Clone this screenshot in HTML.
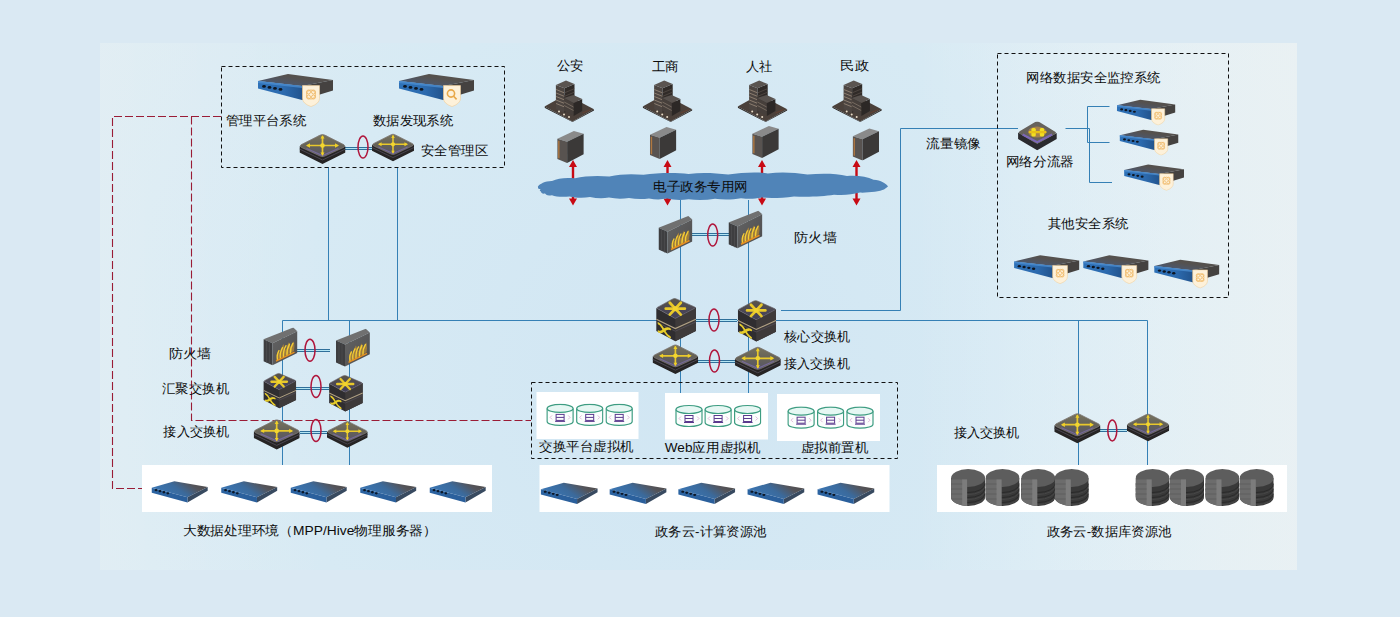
<!DOCTYPE html>
<html><head><meta charset="utf-8"><style>
html,body{margin:0;padding:0;background:#dae9f3;overflow:hidden;}
svg{display:block;}
text{font-family:"Liberation Sans",sans-serif;font-size:13px;font-weight:500;fill:#0c0c0c;}
</style></head><body>
<svg width="1400" height="617" viewBox="0 0 1400 617">

<defs>
 <linearGradient id="gBlue" x1="0" y1="0" x2="1" y2="0">
  <stop offset="0" stop-color="#2f72b8"/><stop offset="0.6" stop-color="#2c6aae"/><stop offset="1" stop-color="#22548e"/>
 </linearGradient>
 <linearGradient id="gTop" x1="0" y1="1" x2="1" y2="0">
  <stop offset="0" stop-color="#3a6698"/><stop offset="0.3" stop-color="#4e5666"/><stop offset="0.6" stop-color="#55514e"/><stop offset="1" stop-color="#524e4a"/>
 </linearGradient>
 <linearGradient id="gSwTop" x1="0" y1="0" x2="0" y2="1">
  <stop offset="0" stop-color="#77735f"/><stop offset="0.5" stop-color="#656258"/><stop offset="1" stop-color="#56546a"/>
 </linearGradient>
 <linearGradient id="gCoreTop" x1="0" y1="0" x2="0" y2="1">
  <stop offset="0" stop-color="#5a5648"/><stop offset="0.6" stop-color="#4a4656"/><stop offset="1" stop-color="#42405a"/>
 </linearGradient>
 <linearGradient id="gSrvTop" x1="0" y1="0.6" x2="1" y2="0.2">
  <stop offset="0" stop-color="#3a78b8"/><stop offset="0.45" stop-color="#3b6a9c"/><stop offset="0.75" stop-color="#54545a"/><stop offset="1" stop-color="#4e4a48"/>
 </linearGradient>
 <linearGradient id="gSrvFront" x1="0" y1="0" x2="1" y2="0">
  <stop offset="0" stop-color="#2c64a2"/><stop offset="1" stop-color="#2a5e9a"/>
 </linearGradient>
 <linearGradient id="gFw" x1="0" y1="0" x2="1" y2="1">
  <stop offset="0" stop-color="#646464"/><stop offset="1" stop-color="#4c4c4e"/>
 </linearGradient>

 <symbol id="srv" viewBox="0 0 76 34">
  <polygon points="1,8 31,1 76,7 45,13" fill="url(#gTop)"/>
  <polygon points="45,13 76,7 76,17.5 45,27" fill="#454240"/>
  <polygon points="1,8 45,13 45,27 1,15.5" fill="url(#gBlue)"/>
  <polygon points="1,8 45,13 45,15 1,10" fill="#4a8cd0" opacity="0.8"/>
  <g fill="#0e1622"><ellipse cx="7" cy="13.4" rx="1.9" ry="1.4"/><ellipse cx="12.5" cy="14.4" rx="1.9" ry="1.4"/><ellipse cx="18" cy="15.4" rx="1.9" ry="1.4"/><ellipse cx="23.5" cy="16.4" rx="1.9" ry="1.4"/></g>
  <path d="M45.5,12.6 L62.5,12.6 L62.5,25.5 Q62.5,30.5 54,33.6 Q45.5,30.5 45.5,25.5 Z" fill="#fdf1da" stroke="#f2cf98" stroke-width="0.6"/>
  <g fill="none" stroke="#efb866" stroke-width="0.9"><circle cx="54" cy="21.5" r="4.5"/><circle cx="51.5" cy="19" r="2"/><circle cx="56.5" cy="19" r="2"/><circle cx="51.5" cy="24" r="2"/><circle cx="56.5" cy="24" r="2"/></g>
 </symbol>
 <symbol id="srvq" viewBox="0 0 76 34">
  <polygon points="1,8 31,1 76,7 45,13" fill="url(#gTop)"/>
  <polygon points="45,13 76,7 76,17.5 45,27" fill="#454240"/>
  <polygon points="1,8 45,13 45,27 1,15.5" fill="url(#gBlue)"/>
  <polygon points="1,8 45,13 45,15 1,10" fill="#4a8cd0" opacity="0.8"/>
  <g fill="#0e1622"><ellipse cx="7" cy="13.4" rx="1.9" ry="1.4"/><ellipse cx="12.5" cy="14.4" rx="1.9" ry="1.4"/><ellipse cx="18" cy="15.4" rx="1.9" ry="1.4"/><ellipse cx="23.5" cy="16.4" rx="1.9" ry="1.4"/></g>
  <path d="M45.5,12.6 L62.5,12.6 L62.5,25.5 Q62.5,30.5 54,33.6 Q45.5,30.5 45.5,25.5 Z" fill="#fdf1da" stroke="#f2cf98" stroke-width="0.6"/>
  <g fill="none" stroke="#e8a848" stroke-width="1.6"><circle cx="53" cy="20.5" r="3.6"/><path d="M55.6,23.2 L58.6,26.4"/></g>
 </symbol>

 <symbol id="srvb" viewBox="0 0 59 24">
  <polygon points="0,8 23.6,1.4 58.4,7.4 37.3,18" fill="url(#gSrvTop)"/>
  <polygon points="37.3,18 58.4,7.4 58.4,11.1 37.3,23.4" fill="#384a60"/>
  <polygon points="0,8 37.3,18 37.3,23.4 0,13.4" fill="url(#gSrvFront)"/>
  <g fill="#0c1828"><ellipse cx="4.5" cy="10.6" rx="1.5" ry="1.2"/><ellipse cx="8.6" cy="11.7" rx="1.5" ry="1.2"/><ellipse cx="12.7" cy="12.8" rx="1.5" ry="1.2"/><ellipse cx="16.8" cy="13.9" rx="1.5" ry="1.2"/></g>
 </symbol>

 <symbol id="sw" viewBox="0 0 46 31">
  <path d="M0,12.5 L23,23 L46,12.5 L46,19 L23,30.5 L0,19 Z" fill="#262424"/>
  <path d="M0,15.5 L23,26.5 L46,15.5" fill="none" stroke="#4a4650" stroke-width="1"/>
  <path d="M23,1 Q24,1 25.5,1.7 L44.5,11.3 Q46,12.5 44.5,13.7 L25.5,22.5 Q23,23.6 20.5,22.5 L1.5,13.7 Q0,12.5 1.5,11.3 L20.5,1.7 Q22,1 23,1 Z" fill="url(#gSwTop)" stroke="#7a7470" stroke-width="0.8"/>
  <path d="M7,15 L23,22 L39,15" fill="none" stroke="#8070b0" stroke-width="1.2" opacity="0.7"/>
  <g stroke="#e8c82c" stroke-linecap="round" fill="none"><path d="M8.5,12 H37.5" stroke-width="1.7"/><path d="M23,3 V21" stroke-width="1.7"/></g>
  <circle cx="23" cy="12" r="2.3" fill="#f2d630"/>
  <g fill="#f0d028"><path d="M6.5,12 L10.5,9.8 L10.5,14.2 Z"/><path d="M39.5,12 L35.5,9.8 L35.5,14.2 Z"/><path d="M23,1.8 L21,5 L25,5 Z"/><path d="M23,22.2 L21,19 L25,19 Z"/></g>
 </symbol>

 <symbol id="core" viewBox="0 0 41 44">
  <path d="M1,10 L20,20.4 L40.6,9.5 L40.6,33 L20,43.2 L1,33 Z" fill="#2f2d30"/>
  <path d="M20,20.4 L40.6,9.5 L40.6,33 L20,43.2 Z" fill="#3e3a3a"/>
  <path d="M1,21.3 L20,30.5 L40.6,21.3" stroke="#b0a084" stroke-width="1.2" fill="none"/>
  <path d="M1,24 L20,33.2 L40.6,24" stroke="#55505a" stroke-width="0.8" fill="none"/>
  <path d="M19,0.6 Q20,0.4 21,0.9 L39.5,9 Q40.6,9.5 39.5,10.2 L21,19.9 Q20,20.4 19,19.9 L2,10.6 Q1,10 2,9.4 L17,1.2 Q18,0.7 19,0.6 Z" fill="url(#gCoreTop)" stroke="#6c6870" stroke-width="0.7"/>
  <g stroke="#e8c82a" stroke-width="2.8" stroke-linecap="round"><path d="M10.5,10.7 H29.5"/><path d="M14.5,4.8 L25.5,16.6"/><path d="M25.5,4.8 L14.5,16.6"/></g>
  <circle cx="20" cy="10.7" r="2.5" fill="#f2d430"/>
  <g transform="matrix(1,0.48,0,1,0,0)" stroke="#e6cc2a" stroke-width="2.3" fill="none" stroke-linecap="round">
    <path d="M3.5,24 C8,24 9,32 14.5,32"/><path d="M3.5,32 C8,32 9,24 14.5,24"/>
  </g>
 </symbol>

 <symbol id="fw" viewBox="0 0 34 38">
  <polygon points="0,11.7 29.8,0 33.8,3.6 9,15.7" fill="#707070"/>
  <polygon points="0,11.7 9,15.7 9,37.6 0,33.6" fill="#3e3e40"/>
  <polygon points="9,15.7 33.8,3.6 33.8,25.5 9,37.6" fill="url(#gFw)"/>
  <g stroke="#505052" stroke-width="0.6"><path d="M3,13.5 V35 M6,14.5 V36.5"/></g>
  <path d="M13,33 Q12.5,27 15,22 Q16,26 17.5,26.5 Q17,21 20,16.5 Q21,21 22.5,22.5 Q23,18 25.5,14.5 Q26.5,19 28,20 Q28.5,16.5 30.5,13.5 Q31.5,19 30.5,23.5 Z" fill="#d89a28" opacity="0.55"/>
  <g stroke="#f4cc34" stroke-width="1.3" fill="none" stroke-linecap="round">
   <path d="M14,32 Q13,27 15.5,23"/><path d="M17,31 Q16,25 19,20"/><path d="M20,29.5 Q19.5,23 22.5,18"/><path d="M23.5,28 Q23,22 26,16.5"/><path d="M27,26 Q26.5,20.5 29.5,15.5"/>
  </g>
  <path d="M12.5,33.5 L31,24.5" stroke="#e89020" stroke-width="1.4"/>
 </symbol>

 <symbol id="bldg" viewBox="0 0 50 42">
  <polygon points="0,26.4 28,41.4 49.5,29.2 49.5,30.6 28,42 0,27.8" fill="#2a2522"/>
  <polygon points="0,26.4 21.5,14.6 49.5,29.2 28,41.4" fill="#4a403a"/>
  <polygon points="11.4,4.9 19.9,8.2 19.9,33 11.4,29" fill="#4c4541"/>
  <polygon points="19.9,8.2 30,4.1 30,26 19.9,33" fill="#302b28"/>
  <polygon points="11.4,4.9 21.5,0.5 30,4.1 19.9,8.2" fill="#5a5450"/>
  <g stroke="#9a8a7a" stroke-width="0.8"><path d="M11.6,9.5 L19.7,12.8 M11.6,13 L19.7,16.3 M11.6,16.5 L19.7,19.8 M11.6,20 L19.7,23.3 M11.6,23.5 L19.7,26.8"/></g>
  <g stroke="#5a504a" stroke-width="0.7"><path d="M20.1,12.8 L29.8,8.7 M20.1,16.3 L29.8,12.2"/></g>
  <polygon points="19.5,17.9 29.2,23.1 29.2,36 19.5,31" fill="#463f3b"/>
  <polygon points="29.2,23.1 37.7,19.1 37.7,31 29.2,36" fill="#2c2826"/>
  <polygon points="19.5,17.9 28.8,15 37.7,19.1 29.2,23.1" fill="#58524e"/>
  <g stroke="#8a7c70" stroke-width="0.7"><path d="M19.7,22 L29,27 M19.7,25.5 L29,30.5"/></g>
  <g fill="#e8dcc8"><circle cx="14.5" cy="31.5" r="1"/><circle cx="19.5" cy="34.5" r="1"/><circle cx="24.5" cy="37" r="1"/></g>
  <path d="M38,33 L46,29.5" stroke="#6a4030" stroke-width="0.8"/>
 </symbol>

 <symbol id="tower" viewBox="0 0 27 35">
  <polygon points="0,10 17,2 27,5 10,13" fill="#8a8a8a"/>
  <polygon points="0,10 10,13 10,35 0,31" fill="#585350"/>
  <polygon points="10,13 27,5 27,26 10,35" fill="#3b3938"/>
  <path d="M1.5,12 V30" stroke="#b07840" stroke-width="1.4"/>
 </symbol>

 <symbol id="db" viewBox="0 0 34 37">
  <path d="M0,9 V28 A17,9 0 0 0 34,28 V9 Z" fill="#393939"/>
  <g fill="none" stroke="#2a2a2a" stroke-width="1"><path d="M0,14.5 A17,9 0 0 0 34,14.5"/><path d="M0,19.5 A17,9 0 0 0 34,19.5"/><path d="M0,24.5 A17,9 0 0 0 34,24.5"/></g>
  <g fill="none" stroke="#4a4a4a" stroke-width="0.8"><path d="M0,16.5 A17,9 0 0 0 34,16.5"/><path d="M0,21.5 A17,9 0 0 0 34,21.5"/><path d="M0,26.5 A17,9 0 0 0 34,26.5"/></g>
  <ellipse cx="17" cy="9" rx="17" ry="9" fill="#5d5d5d"/>
  <path d="M0,10.5 L16,10.5 L16,37 A17,9 0 0 1 0,28 Z" fill="#6c6c6c"/>
  <path d="M11,10.5 L16,10.5 L16,37 L11,36.2 Z" fill="#7c7c7c"/>
  <g stroke="#5a5a5a" stroke-width="0.7"><path d="M0,15 H11 M0,20 H11 M0,25 H11 M0,30 H11"/></g>
 </symbol>

 <symbol id="vm" viewBox="0 0 28 23">
  <path d="M1,5 V18 A13,4 0 0 0 27,18 V5" fill="#fbfefd" stroke="#3e9d82" stroke-width="1.2"/>
  <ellipse cx="14" cy="5" rx="13" ry="4" fill="#e6f7f3" stroke="#3e9d82" stroke-width="1.2"/>
  <rect x="10" y="11" width="8" height="6" fill="none" stroke="#5b3a8e" stroke-width="1"/>
  <path d="M10,14 H18 M9,18 H19" stroke="#5b3a8e" stroke-width="1"/>
  <g stroke="#d9a8d0" stroke-width="0.8" fill="none"><path d="M6,12 L4,14 L6,16"/><path d="M22,12 L24,14 L22,16"/></g>
 </symbol>

 <symbol id="split" viewBox="0 0 40 29">
  <path d="M0.5,11 L19.6,22 L39.1,11.6 L39.1,17.5 L19.6,28.8 L0.5,17.5 Z" fill="#2a2a2e"/>
  <path d="M19.6,0 Q21,0 22.5,0.9 L37.6,10.3 Q39.4,11.4 37.6,12.5 L22,21.3 Q19.6,22.6 17.2,21.3 L2,12.2 Q0.3,11 2,9.8 L16.7,0.9 Q18.2,0 19.6,0 Z" fill="#66625c"/>
  <path d="M5,13 L19.6,20.6 L34.5,13" fill="none" stroke="#8068c8" stroke-width="2" opacity="0.85"/>
  <ellipse cx="19.6" cy="10.5" rx="9" ry="5.5" fill="#d89a40" opacity="0.55"/>
  <g fill="#f2de20"><rect x="13.8" y="6.5" width="4.4" height="8.5" rx="1.5"/><rect x="22.2" y="6.5" width="4.4" height="8.5" rx="1.5"/></g>
  <g fill="#e8c018"><rect x="11" y="9.5" width="18" height="2.2" rx="1"/></g>
 </symbol>
</defs>

<defs>
 <radialGradient id="gPanel" gradientUnits="userSpaceOnUse" cx="680" cy="380" r="720">
  <stop offset="0" stop-color="#d1e6f3"/><stop offset="0.55" stop-color="#d7eaf4"/><stop offset="1" stop-color="#dfecf2"/>
 </radialGradient>
 <linearGradient id="gPanelW" gradientUnits="userSpaceOnUse" x1="100" y1="0" x2="1297" y2="0">
  <stop offset="0" stop-color="#ffffff" stop-opacity="0.12"/><stop offset="0.2" stop-color="#ffffff" stop-opacity="0"/><stop offset="0.68" stop-color="#ffffff" stop-opacity="0"/><stop offset="1" stop-color="#f4f6f4" stop-opacity="0.5"/>
 </linearGradient>
</defs>
<rect width="1400" height="617" fill="#dae9f3"/>
<rect x="100" y="43" width="1197" height="527" fill="url(#gPanel)"/>
<rect x="100" y="43" width="1197" height="527" fill="url(#gPanelW)"/>
<path d="M328.5,167 L328.5,320.5" fill="none" stroke="#3580b5" stroke-width="1"/>
<path d="M397.5,167 L397.5,320.5" fill="none" stroke="#3580b5" stroke-width="1"/>
<path d="M282.5,465 L282.5,320.5 L1147.5,320.5 L1147.5,465" fill="none" stroke="#3580b5" stroke-width="1"/>
<path d="M349.5,320.5 L349.5,465" fill="none" stroke="#3580b5" stroke-width="1"/>
<path d="M1078.5,320.5 L1078.5,465" fill="none" stroke="#3580b5" stroke-width="1"/>
<path d="M680.5,200 L680.5,393" fill="none" stroke="#3580b5" stroke-width="1"/>
<path d="M748.5,200 L748.5,393" fill="none" stroke="#3580b5" stroke-width="1"/>
<path d="M781,310.5 L900.5,310.5 L900.5,128.5 L1018,128.5" fill="none" stroke="#3580b5" stroke-width="1"/>
<path d="M1065.5,128.5 L1089.5,128.5 L1089.5,182.5 L1112,182.5" fill="none" stroke="#3580b5" stroke-width="1"/>
<path d="M1109.5,106.5 L1087.5,106.5 L1087.5,142.5 L1109.5,142.5" fill="none" stroke="#3580b5" stroke-width="1"/>
<path d="M221,116.5 H112.5 V488.5 H142" stroke="#9a1c36" stroke-width="1.1" stroke-dasharray="8,3" fill="none"/>
<path d="M191.5,116.5 V420.5 H531" stroke="#9a1c36" stroke-width="1.1" stroke-dasharray="8,3" fill="none"/>
<rect x="221.5" y="66.5" width="283" height="101" stroke="#111111" stroke-width="1" stroke-dasharray="4,3" fill="none"/>
<rect x="997.5" y="53.5" width="231" height="244" stroke="#111111" stroke-width="1" stroke-dasharray="4,3" fill="none"/>
<rect x="531.5" y="382.5" width="366" height="76" stroke="#111111" stroke-width="1" stroke-dasharray="4,3" fill="none"/>
<rect x="142" y="465" width="350" height="47" fill="#ffffff"/>
<rect x="539.5" y="465" width="350" height="47" fill="#ffffff"/>
<rect x="937" y="465" width="350" height="47" fill="#ffffff"/>
<rect x="536.5" y="392" width="102" height="47" fill="#ffffff"/>
<rect x="665" y="393" width="103" height="46.5" fill="#ffffff"/>
<rect x="777" y="394" width="103" height="47" fill="#ffffff"/>
<use href="#srv" x="257" y="73" width="76" height="34"/>
<use href="#srvq" x="398" y="73" width="76" height="34"/>
<line x1="345" y1="148.5" x2="373" y2="148.5" stroke="#b4e6f4" stroke-width="1"/><line x1="345" y1="147.5" x2="373" y2="147.5" stroke="#2f6f9a" stroke-width="1"/><line x1="345" y1="149.5" x2="373" y2="149.5" stroke="#2f6f9a" stroke-width="1"/>
<use href="#sw" x="299.5" y="133.5" width="46" height="31"/>
<use href="#sw" x="372" y="132.5" width="42" height="30"/>
<ellipse cx="363" cy="147" rx="5" ry="11" fill="none" stroke="#b0163c" stroke-width="1.5"/>
<line x1="573" y1="166" x2="573" y2="199" stroke="#c80a14" stroke-width="2.4"/>
<path d="M573,160 L569,167 L577,167 Z M573,205.5 L569,198.5 L577,198.5 Z" fill="#c80a14"/>
<line x1="667.5" y1="166" x2="667.5" y2="199" stroke="#c80a14" stroke-width="2.4"/>
<path d="M667.5,160 L663.5,167 L671.5,167 Z M667.5,205.5 L663.5,198.5 L671.5,198.5 Z" fill="#c80a14"/>
<line x1="762" y1="166" x2="762" y2="199" stroke="#c80a14" stroke-width="2.4"/>
<path d="M762,160 L758,167 L766,167 Z M762,205.5 L758,198.5 L766,198.5 Z" fill="#c80a14"/>
<line x1="856.5" y1="166" x2="856.5" y2="199" stroke="#c80a14" stroke-width="2.4"/>
<path d="M856.5,160 L852.5,167 L860.5,167 Z M856.5,205.5 L852.5,198.5 L860.5,198.5 Z" fill="#c80a14"/>
<use href="#bldg" x="544.5" y="80" width="50" height="42"/>
<use href="#tower" x="557" y="129" width="27" height="34"/>
<use href="#bldg" x="642.7" y="80" width="50" height="42"/>
<use href="#tower" x="649.6" y="125" width="27" height="34"/>
<use href="#bldg" x="737.7" y="80" width="50" height="42"/>
<use href="#tower" x="752" y="124" width="27" height="34"/>
<use href="#bldg" x="832.2" y="80" width="50" height="42"/>
<use href="#tower" x="852.4" y="126.5" width="27" height="34"/>
<path d="M537.9,186.4 C539.7,184.0 545.2,180.9 552.0,181.0 C558.0,178.0 565.3,177.4 575.0,178.2 C584.5,175.8 597.8,175.4 609.3,176.4 C620.7,174.2 630.3,173.6 643.6,174.8 C656.8,172.8 674.5,172.3 688.6,173.9 C702.7,172.3 715.0,173.1 728.2,174.6 C741.4,172.9 754.5,171.8 767.8,173.4 C781.1,171.8 794.3,172.5 807.5,174.5 C820.8,173.3 836.1,173.4 847.0,175.9 C858.2,175.2 866.9,176.5 873.5,179.8 C881.0,180.1 886.2,183.8 888.0,186.4 L884,189.5 C880.2,191.2 868.5,192.9 860.0,192.6 C851.8,194.7 845.1,195.4 834.0,194.8 C823.0,196.6 806.0,197.1 794.0,196.4 C782.0,198.1 770.9,198.5 762.0,197.6 C753.2,199.1 748.9,199.2 741.0,198.2 C733.2,199.6 723.8,199.8 715.0,198.8 C706.3,200.2 696.6,200.4 688.6,199.2 C680.6,200.4 673.6,199.9 667.0,198.6 C660.4,199.7 655.3,199.7 649.0,198.4 C642.6,199.5 635.6,199.3 629.0,198.0 C622.3,199.1 615.5,199.0 609.0,197.6 C602.5,198.6 596.5,198.4 590.0,197.0 C583.4,198.0 575.9,197.9 569.6,196.4 C563.2,197.3 556.0,196.9 552.0,195.2 C547.6,195.9 546.6,195.3 545.0,193.5 C542.6,194.0 541.2,193.3 541.0,191.5 C539.1,190.9 539.9,189.9 540.6,189.0 C539.5,189.4 537.8,188.8 538.0,187.5 Z" fill="#5084b8"/>
<line x1="692" y1="234.5" x2="729" y2="234.5" stroke="#b4e6f4" stroke-width="1"/><line x1="692" y1="233.5" x2="729" y2="233.5" stroke="#2f6f9a" stroke-width="1"/><line x1="692" y1="235.5" x2="729" y2="235.5" stroke="#2f6f9a" stroke-width="1"/>
<use href="#fw" x="658.5" y="216" width="34" height="38"/>
<use href="#fw" x="728.5" y="210.5" width="34" height="38.5"/>
<ellipse cx="712.7" cy="235" rx="5" ry="11" fill="none" stroke="#b0163c" stroke-width="1.5"/>
<line x1="696" y1="320.5" x2="737" y2="320.5" stroke="#b4e6f4" stroke-width="1"/><line x1="696" y1="319.5" x2="737" y2="319.5" stroke="#2f6f9a" stroke-width="1"/><line x1="696" y1="321.5" x2="737" y2="321.5" stroke="#2f6f9a" stroke-width="1"/>
<line x1="698" y1="361.5" x2="735" y2="361.5" stroke="#b4e6f4" stroke-width="1"/><line x1="698" y1="360.5" x2="735" y2="360.5" stroke="#2f6f9a" stroke-width="1"/><line x1="698" y1="362.5" x2="735" y2="362.5" stroke="#2f6f9a" stroke-width="1"/>
<use href="#core" x="655.3" y="298" width="41" height="44"/>
<use href="#core" x="737" y="300" width="39.4" height="42.5"/>
<ellipse cx="714" cy="320" rx="5" ry="11" fill="none" stroke="#b0163c" stroke-width="1.5"/>
<use href="#sw" x="652.4" y="344" width="46" height="30.6"/>
<use href="#sw" x="734.8" y="346" width="46" height="31.6"/>
<ellipse cx="714.5" cy="361" rx="5" ry="11" fill="none" stroke="#b0163c" stroke-width="1.5"/>
<line x1="297" y1="350.5" x2="330" y2="350.5" stroke="#b4e6f4" stroke-width="1"/><line x1="297" y1="349.5" x2="330" y2="349.5" stroke="#2f6f9a" stroke-width="1"/><line x1="297" y1="351.5" x2="330" y2="351.5" stroke="#2f6f9a" stroke-width="1"/>
<use href="#fw" x="263.3" y="327.6" width="34.4" height="38"/>
<use href="#fw" x="336" y="328.7" width="34" height="38.3"/>
<ellipse cx="310" cy="350.2" rx="5" ry="11" fill="none" stroke="#b0163c" stroke-width="1.5"/>
<line x1="296" y1="388.5" x2="329" y2="388.5" stroke="#b4e6f4" stroke-width="1"/><line x1="296" y1="387.5" x2="329" y2="387.5" stroke="#2f6f9a" stroke-width="1"/><line x1="296" y1="389.5" x2="329" y2="389.5" stroke="#2f6f9a" stroke-width="1"/>
<use href="#core" x="262.8" y="372.2" width="33.6" height="37.6"/>
<use href="#core" x="328.3" y="374.8" width="34.7" height="37.6"/>
<ellipse cx="316" cy="386.5" rx="5" ry="11" fill="none" stroke="#b0163c" stroke-width="1.5"/>
<line x1="300" y1="432.5" x2="327" y2="432.5" stroke="#b4e6f4" stroke-width="1"/><line x1="300" y1="431.5" x2="327" y2="431.5" stroke="#2f6f9a" stroke-width="1"/><line x1="300" y1="433.5" x2="327" y2="433.5" stroke="#2f6f9a" stroke-width="1"/>
<use href="#sw" x="253.7" y="418.9" width="46" height="31"/>
<use href="#sw" x="327" y="418.9" width="40.7" height="31"/>
<ellipse cx="316" cy="430.5" rx="5" ry="11" fill="none" stroke="#b0163c" stroke-width="1.5"/>
<use href="#srvb" x="150.5" y="480" width="59" height="23"/>
<use href="#srvb" x="220" y="480" width="59" height="23"/>
<use href="#srvb" x="289.5" y="480" width="59" height="23"/>
<use href="#srvb" x="359" y="480" width="59" height="23"/>
<use href="#srvb" x="428.5" y="480" width="59" height="23"/>
<use href="#srvb" x="540" y="481.4" width="59" height="23.3"/>
<use href="#srvb" x="608.8" y="481.4" width="59" height="23.3"/>
<use href="#srvb" x="677.5" y="481.4" width="59" height="23.3"/>
<use href="#srvb" x="746.7" y="481.4" width="59" height="23.3"/>
<use href="#srvb" x="816.7" y="481.4" width="59" height="23.3"/>
<use href="#vm" x="546.1" y="403.4" width="28" height="23"/>
<use href="#vm" x="575.7" y="403.4" width="28" height="23"/>
<use href="#vm" x="605.2" y="403.4" width="28" height="23"/>
<use href="#vm" x="675" y="404.5" width="28" height="23"/>
<use href="#vm" x="704.1" y="404.5" width="28" height="23"/>
<use href="#vm" x="733.6" y="404.5" width="28" height="23"/>
<use href="#vm" x="787.1" y="406.2" width="28" height="23"/>
<use href="#vm" x="816.6" y="406.2" width="28" height="23"/>
<use href="#vm" x="846" y="406.2" width="28" height="23"/>
<use href="#split" x="1017.6" y="121.5" width="40" height="29"/>
<use href="#srv" x="1114.4" y="99" width="62.6" height="26.4"/>
<use href="#srv" x="1117.6" y="129" width="62.1" height="26.5"/>
<use href="#srv" x="1122.7" y="163.6" width="62" height="27.1"/>
<use href="#srv" x="1011.4" y="254.5" width="69.6" height="29.5"/>
<use href="#srv" x="1081" y="254.5" width="68.8" height="29.5"/>
<use href="#srv" x="1151.6" y="259" width="69.4" height="29.4"/>
<line x1="1100" y1="430.5" x2="1127" y2="430.5" stroke="#b4e6f4" stroke-width="1"/><line x1="1100" y1="429.5" x2="1127" y2="429.5" stroke="#2f6f9a" stroke-width="1"/><line x1="1100" y1="431.5" x2="1127" y2="431.5" stroke="#2f6f9a" stroke-width="1"/>
<use href="#sw" x="1054.2" y="412.7" width="46.3" height="31"/>
<use href="#sw" x="1126.9" y="412.7" width="42.3" height="29.6"/>
<ellipse cx="1112.3" cy="430.4" rx="4.5" ry="10.5" fill="none" stroke="#b0163c" stroke-width="1.5"/>
<use href="#db" x="951.1" y="469" width="34" height="37"/>
<use href="#db" x="985.5" y="469" width="34" height="37"/>
<use href="#db" x="1021.2" y="469" width="34" height="37"/>
<use href="#db" x="1054.7" y="469" width="34" height="37"/>
<use href="#db" x="1135.6" y="469" width="34" height="37"/>
<use href="#db" x="1170" y="469" width="34" height="37"/>
<use href="#db" x="1205.4" y="469" width="34" height="37"/>
<use href="#db" x="1239.7" y="469" width="34" height="37"/>
<text id="t0" x="225.60" y="124.85" textLength="80.84" lengthAdjust="spacingAndGlyphs">管理平台系统</text>
<text id="t1" x="372.80" y="124.80" textLength="80.43" lengthAdjust="spacingAndGlyphs">数据发现系统</text>
<text id="t2" x="421.00" y="155.00" textLength="67.03" lengthAdjust="spacingAndGlyphs">安全管理区</text>
<text id="t3" x="557.00" y="69.95" textLength="26.73" lengthAdjust="spacingAndGlyphs">公安</text>
<text id="t4" x="651.80" y="71.30" textLength="27.14" lengthAdjust="spacingAndGlyphs">工商</text>
<text id="t5" x="746.00" y="70.80" textLength="26.60" lengthAdjust="spacingAndGlyphs">人社</text>
<text id="t6" x="840.40" y="70.30" textLength="28.60" lengthAdjust="spacingAndGlyphs">民政</text>
<text id="t7" x="653.00" y="191.00" textLength="94.78" lengthAdjust="spacingAndGlyphs">电子政务专用网</text>
<text id="t8" x="794.00" y="241.70" textLength="42.79" lengthAdjust="spacingAndGlyphs">防火墙</text>
<text id="t9" x="784.20" y="340.55" textLength="65.80" lengthAdjust="spacingAndGlyphs">核心交换机</text>
<text id="t10" x="784.20" y="367.60" textLength="65.40" lengthAdjust="spacingAndGlyphs">接入交换机</text>
<text id="t11" x="168.80" y="357.60" textLength="42.37" lengthAdjust="spacingAndGlyphs">防火墙</text>
<text id="t12" x="162.00" y="392.60" textLength="67.03" lengthAdjust="spacingAndGlyphs">汇聚交换机</text>
<text id="t13" x="163.40" y="436.00" textLength="66.10" lengthAdjust="spacingAndGlyphs">接入交换机</text>
<text id="t14" x="539.40" y="451.10" textLength="94.34" lengthAdjust="spacingAndGlyphs">交换平台虚拟机</text>
<text id="t15" x="664.80" y="451.75" textLength="95.52" lengthAdjust="spacingAndGlyphs">Web应用虚拟机</text>
<text id="t16" x="800.80" y="452.05" textLength="67.54" lengthAdjust="spacingAndGlyphs">虚拟前置机</text>
<text id="t17" x="182.80" y="535.25" textLength="254.23" lengthAdjust="spacingAndGlyphs">大数据处理环境（MPP/Hive物理服务器）</text>
<text id="t18" x="655.00" y="535.75" textLength="111.35" lengthAdjust="spacingAndGlyphs">政务云-计算资源池</text>
<text id="t19" x="1046.60" y="535.85" textLength="124.82" lengthAdjust="spacingAndGlyphs">政务云-数据库资源池</text>
<text id="t20" x="926.20" y="147.65" textLength="54.91" lengthAdjust="spacingAndGlyphs">流量镜像</text>
<text id="t21" x="1026.40" y="82.30" textLength="134.23" lengthAdjust="spacingAndGlyphs">网络数据安全监控系统</text>
<text id="t22" x="1005.60" y="166.40" textLength="68.20" lengthAdjust="spacingAndGlyphs">网络分流器</text>
<text id="t23" x="1048.00" y="228.38" textLength="80.43" lengthAdjust="spacingAndGlyphs">其他安全系统</text>
<text id="t24" x="953.60" y="436.65" textLength="66.10" lengthAdjust="spacingAndGlyphs">接入交换机</text>
</svg>
</body></html>
